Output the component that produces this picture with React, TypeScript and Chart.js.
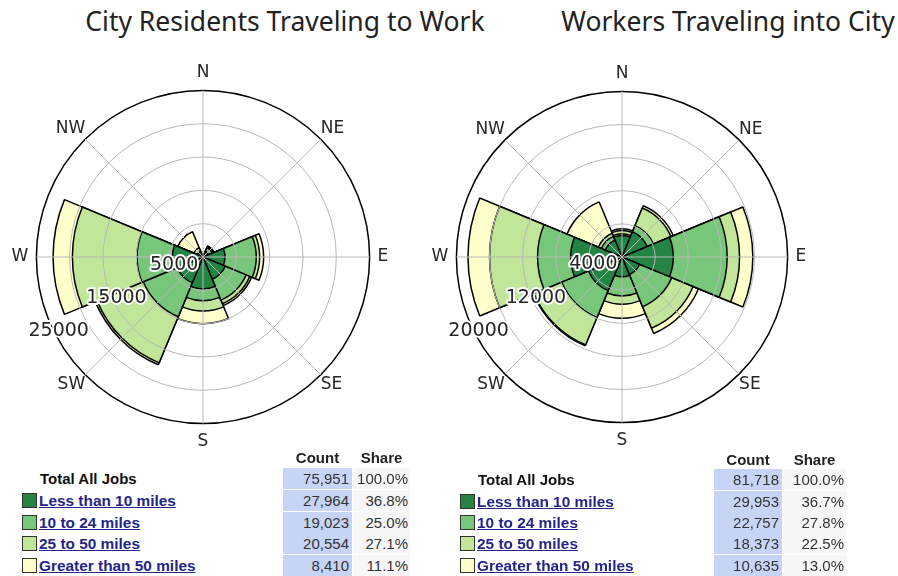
import React, { useEffect, useRef } from "react";
import { Chart, registerables } from "chart.js";

Chart.register(...registerables);

// ---------- data ----------
const directions = ["N", "NE", "E", "SE", "S", "SW", "W", "NW"];
const rangeLabels = ["Less than 10 miles", "10 to 24 miles", "25 to 50 miles", "Greater than 50 miles"];
const rangeColors = ["#238443", "#78c679", "#c2e699", "#ffffcc"];

// City residents traveling to work (jobs by direction, per distance band)
const residentsLt10 = [200, 900, 3300, 3600, 4800, 4200, 4600, 500];
const residents10to24 = [100, 600, 4700, 3400, 1750, 5500, 5300, 400];
const residents25to50 = [100, 200, 500, 600, 1550, 7500, 9700, 600];
const residentsGt50 = [100, 100, 600, 300, 1900, 300, 2900, 2600];
const residentsTicks = [5000, 15000, 25000];
const residentsMax = 25000;
const residentsStep = 5000;
const residentsTotal = 75951;
const residentsCounts = [27964, 19023, 20554, 8410];
const residentsShares = [36.8, 25.0, 27.1, 11.1];

// Workers traveling into city
const workersLt10 = [2600, 3300, 6200, 2300, 2400, 4400, 6200, 2200];
const workers10to24 = [200, 800, 6500, 4200, 2300, 3500, 4000, 500];
const workers25to50 = [400, 2300, 1500, 2800, 1000, 3600, 5800, 400];
const workersGt50 = [200, 300, 1600, 700, 1700, 100, 2600, 4100];
const workersTicks = [4000, 12000, 20000];
const workersMax = 20000;
const workersStep = 4000;
const workersTotal = 81718;
const workersCounts = [29953, 22757, 18373, 10635];
const workersShares = [36.7, 27.8, 22.5, 13.0];

// ---------- chart ----------
type RoseProps = {
  series: number[][];
  max: number;
  step: number;
  tickLabels: number[];
  size: number;
  left: number;
  top: number;
};

function WindRose({ series, max, step, tickLabels, size, left, top }: RoseProps) {
  const ref = useRef<HTMLCanvasElement | null>(null);

  useEffect(() => {
    if (!ref.current) return;
    // stacked (cumulative) rings: drawn largest first, smallest on top
    const cumulative: number[][] = [];
    series.forEach((s, k) => {
      cumulative.push(s.map((v, i) => v + (k > 0 ? cumulative[k - 1][i] : 0)));
    });
    const datasets = cumulative.map((d, k) => ({
      label: rangeLabels[k],
      data: d,
      backgroundColor: rangeColors[k],
      borderColor: "#000000",
      borderWidth: 1.5,
    }));

    const plFont = { family: "DejaVu Sans", size: 17 };
    const plPadding = (c: any) => (c.index % 2 === 1 ? 0 : 8);

    const tickLabelPlugin = {
      id: "roseTickLabels",
      afterDraw(chart: any) {
        const scale = chart.scales.r;
        const ctx = chart.ctx;
        ctx.save();
        ctx.font = "19px 'DejaVu Sans'";
        ctx.textAlign = "center";
        ctx.textBaseline = "middle";
        ctx.lineJoin = "round";
        const a = (30 * Math.PI) / 180;
        tickLabels.forEach((v) => {
          const r = scale.getDistanceFromCenterForValue(v);
          const x = scale.xCenter - r * Math.cos(a);
          const y = scale.yCenter + r * Math.sin(a) - 9;
          ctx.strokeStyle = "#ffffff";
          ctx.lineWidth = 4;
          ctx.strokeText(String(v), x, y);
          ctx.fillStyle = "#262626";
          ctx.fillText(String(v), x, y);
        });
        ctx.restore();
      },
    };

    const chart = new Chart(ref.current, {
      type: "polarArea",
      data: { labels: directions, datasets },
      options: {
        animation: false,
        responsive: false,
        events: [],
        layout: { padding: 0 },
        plugins: { legend: { display: false }, tooltip: { enabled: false } },
        scales: {
          r: {
            type: "radialLinear",
            min: 0,
            max,
            startAngle: -22.5,
            beginAtZero: true,
            ticks: { display: false, stepSize: step },
            grid: {
              display: true,
              circular: true,
              z: 1,
              color: (c: any) => (c.tick && c.tick.value === max ? "#000000" : "#b8b8b8"),
              lineWidth: (c: any) => (c.tick && c.tick.value === max ? 1.5 : 1),
            },
            angleLines: { display: false },
            pointLabels: {
              display: true,
              centerPointLabels: true,
              font: plFont,
              padding: plPadding,
              color: "rgba(0,0,0,0)",
            },
          },
          r2: {
            type: "radialLinear",
            axis: "r",
            min: 0,
            max,
            startAngle: 0,
            ticks: { display: false, stepSize: step },
            grid: { display: false, z: 1 },
            angleLines: { display: true, color: "#b8b8b8", lineWidth: 1 },
            pointLabels: { display: true, font: plFont, padding: plPadding, color: "#262626" },
          },
        } as any,
      },
      plugins: [tickLabelPlugin],
    });
    return () => chart.destroy();
  }, []);

  return (
    <canvas
      ref={ref}
      width={size}
      height={size}
      style={{ position: "absolute", left, top, width: size, height: size }}
    />
  );
}

// ---------- table ----------
type TableLayout = {
  swatchX: number;
  labelX: number;
  countX: number;
  countW: number;
  shareX: number;
  shareW: number;
  headerY: number;
  rowTops: number[];
};

const fmt = (n: number) => n.toLocaleString("en-US");

function JobsTable({ total, counts, shares, L }: { total: number; counts: number[]; shares: number[]; L: TableLayout }) {
  const rowH = 21;
  const base: React.CSSProperties = {
    position: "absolute",
    fontFamily: "'Liberation Sans', Arial, sans-serif",
    fontSize: 15,
    lineHeight: rowH + "px",
    height: rowH,
    whiteSpace: "nowrap",
  };
  const rows = [
    { label: "Total All Jobs", count: total, share: 100.0, swatch: null as string | null },
    ...counts.map((c, i) => ({ label: rangeLabels[i], count: c, share: shares[i], swatch: rangeColors[i] })),
  ];
  return (
    <>
      <div style={{ ...base, left: L.countX, width: L.countW, top: L.headerY - rowH / 2, textAlign: "center", fontWeight: "bold", color: "#222" }}>Count</div>
      <div style={{ ...base, left: L.shareX, width: L.shareW, top: L.headerY - rowH / 2, textAlign: "center", fontWeight: "bold", color: "#222" }}>Share</div>
      {rows.map((r, i) => {
        const t = L.rowTops[i];
        return (
          <React.Fragment key={i}>
            {r.swatch && (
              <div
                style={{
                  position: "absolute",
                  left: L.swatchX,
                  top: t + 3,
                  width: 13,
                  height: 13,
                  background: r.swatch,
                  border: "1px solid #333",
                }}
              />
            )}
            <div
              style={{
                ...base,
                left: i === 0 ? L.labelX + 1 : L.labelX,
                top: t,
                fontWeight: "bold",
                color: i === 0 ? "#111" : "#24248a",
                textDecoration: i === 0 ? "none" : "underline",
                fontSize: i === 0 ? 15 : 15.4,
              }}
            >
              {r.label}
            </div>
            <div style={{ ...base, left: L.countX, width: L.countW - 3, paddingRight: 3, top: t, background: "#c6d5f6", textAlign: "right", color: "#333" }}>
              {fmt(r.count)}
            </div>
            <div style={{ ...base, left: L.shareX, width: L.shareW - 2, paddingRight: 2, top: t, background: "#f7f7f7", textAlign: "right", color: "#333" }}>
              {r.share.toFixed(1)}%
            </div>
          </React.Fragment>
        );
      })}
    </>
  );
}

const leftTable: TableLayout = {
  swatchX: 22,
  labelX: 39,
  countX: 283,
  countW: 69,
  shareX: 353,
  shareW: 57,
  headerY: 457,
  rowTops: [468, 490, 512, 533, 555],
};

const rightTable: TableLayout = {
  swatchX: 460,
  labelX: 477,
  countX: 714,
  countW: 68,
  shareX: 783,
  shareW: 63,
  headerY: 459,
  rowTops: [469, 491, 512, 533, 555],
};

const titleStyle: React.CSSProperties = {
  position: "absolute",
  top: 7,
  width: 560,
  textAlign: "center",
  fontFamily: "'Noto Sans', sans-serif",
  fontSize: 26.5,
  lineHeight: "28px",
  color: "#222",
  whiteSpace: "nowrap",
};

export default function App() {
  return (
    <div style={{ position: "absolute", left: 0, top: 0, width: 898, height: 576, background: "#fff", overflow: "hidden" }}>
      <div style={{ ...titleStyle, left: 285 - 280 }}>City Residents Traveling to Work</div>
      <div style={{ ...titleStyle, left: 728 - 280 }}>Workers Traveling into City</div>
      <WindRose
        series={[residentsLt10, residents10to24, residents25to50, residentsGt50]}
        max={residentsMax}
        step={residentsStep}
        tickLabels={residentsTicks}
        size={390}
        left={5}
        top={62}
      />
      <WindRose
        series={[workersLt10, workers10to24, workers25to50, workersGt50]}
        max={workersMax}
        step={workersStep}
        tickLabels={workersTicks}
        size={388}
        left={425}
        top={63}
      />
      <JobsTable total={residentsTotal} counts={residentsCounts} shares={residentsShares} L={leftTable} />
      <JobsTable total={workersTotal} counts={workersCounts} shares={workersShares} L={rightTable} />
    </div>
  );
}
